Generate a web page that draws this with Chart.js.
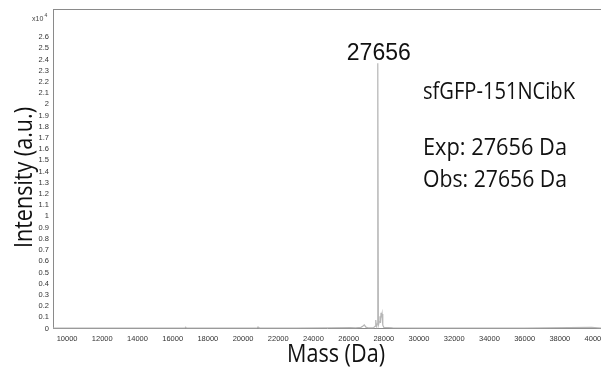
<!DOCTYPE html>
<html>
<head>
<meta charset="utf-8">
<script src="https://cdn.jsdelivr.net/npm/chart.js@4"></script>
<style>
  html, body { margin: 0; padding: 0; background: #fff; }
  #wrap { width: 601px; height: 372px; }
</style>
</head>
<body>
<div id="wrap"><canvas id="chart1" width="601" height="372"></canvas></div>
<script>
// spectrum (mass in Da, intensity in x10^4)
const mass = [9200, 12000, 14000, 16700, 16740, 16780, 18000, 20800, 20850, 20900, 23000, 25000,
  26100, 26400, 26700, 26800, 26890, 26980, 27100, 27400, 27500, 27540, 27580, 27620, 27656, 27690,
  27740, 27780, 27810, 27840, 27870, 27900, 27940, 28000, 28500, 30000, 33000, 36000, 39800, 40340]
const intensity = [0.004, 0.004, 0.004, 0.004, 0.012, 0.004, 0.004, 0.004, 0.014, 0.004, 0.004, 0.005,
  0.008, 0.006, 0.01, 0.02, 0.032, 0.012, 0.006, 0.006, 0.02, 0.075, 0.02, 0.04, 2.366, 0.03,
  0.06, 0.11, 0.05, 0.14, 0.1, 0.13, 0.03, 0.01, 0.005, 0.004, 0.004, 0.004, 0.01, 0.004]

const xTicks = [10000, 12000, 14000, 16000, 18000, 20000, 22000, 24000, 26000, 28000, 30000,
  32000, 34000, 36000, 38000, 40000]
const yTicks = [0, 0.1, 0.2, 0.3, 0.4, 0.5, 0.6, 0.7, 0.8, 0.9, 1, 1.1, 1.2, 1.3, 1.4, 1.5,
  1.6, 1.7, 1.8, 1.9, 2, 2.1, 2.2, 2.3, 2.4, 2.5, 2.6]

const peakLabel = '27656'
const sampleName = 'sfGFP-151NCibK'
const expText = 'Exp: 27656 Da'
const obsText = 'Obs: 27656 Da'

const points = mass.map((m, i) => ({ x: m, y: intensity[i] }))

// draw text squeezed to a given width
function fitText(ctx, text, x, y, width, font) {
  ctx.font = font
  const w = ctx.measureText(text).width
  ctx.save()
  ctx.translate(x, y)
  ctx.scale(width / w, 1)
  ctx.fillText(text, 0, 0)
  ctx.restore()
}

const extras = {
  id: 'extras',
  beforeDatasetsDraw(chart) {
    const { ctx, chartArea } = chart
    ctx.save()
    ctx.strokeStyle = '#8a8a8a'
    ctx.lineWidth = 1
    ctx.beginPath()
    ctx.moveTo(chartArea.left, chartArea.top + 0.5)
    ctx.lineTo(chartArea.right, chartArea.top + 0.5)
    ctx.stroke()
    ctx.restore()
  },
  afterDraw(chart) {
    const ctx = chart.ctx
    const xs = chart.scales.x
    ctx.save()
    ctx.fillStyle = '#111'
    ctx.textAlign = 'left'
    ctx.textBaseline = 'alphabetic'

    // peak label
    ctx.font = '23px "Liberation Sans", Arial, sans-serif'
    ctx.textAlign = 'center'
    ctx.fillText(peakLabel, xs.getPixelForValue(27656) + 1, 59.5)
    ctx.textAlign = 'left'

    // annotation block
    fitText(ctx, sampleName, 423, 99, 152, '23px "Open Sans", sans-serif')
    fitText(ctx, expText, 423, 155, 144, '23px "Open Sans", sans-serif')
    fitText(ctx, obsText, 423, 187, 144, '23px "Open Sans", sans-serif')

    // axis titles
    fitText(ctx, 'Mass (Da)', 287, 362, 98, '25px "Open Sans", sans-serif')
    ctx.save()
    ctx.translate(32, 248)
    ctx.rotate(-Math.PI / 2)
    fitText(ctx, 'Intensity (a.u.)', 0, 0, 141, '25px "Open Sans", sans-serif')
    ctx.restore()

    // x10^4
    ctx.fillStyle = '#444'
    ctx.font = '7px "Liberation Sans", Arial, sans-serif'
    ctx.fillText('x10', 32, 21)
    ctx.font = '5px "Liberation Sans", Arial, sans-serif'
    ctx.fillText('4', 44.5, 17)
    ctx.restore()
  }
}

const cht1 = document.getElementById('chart1')

new Chart(cht1, {
  type: 'scatter',
  data: {
    datasets: [{
      label: 'spectrum',
      data: points,
      showLine: true,
      borderColor: '#b6b6b6',
      borderWidth: 1.2,
      pointRadius: 0,
      tension: 0
    }]
  },
  options: {
    responsive: false,
    animation: false,
    layout: { padding: { top: 9, left: 0, right: 0, bottom: 0 } },
    plugins: {
      legend: { display: false },
      tooltip: { enabled: false }
    },
    scales: {
      x: {
        type: 'linear',
        min: 9200,
        max: 40340,
        grid: { display: false, drawTicks: false },
        border: { display: true, color: '#8a8a8a', width: 1 },
        afterBuildTicks: (scale) => { scale.ticks = xTicks.map(v => ({ value: v })) },
        afterFit: (scale) => {
          scale.height = 43.5
          scale.paddingLeft = 0
          scale.paddingRight = 0
        },
        ticks: {
          padding: 6,
          maxRotation: 0,
          autoSkip: false,
          color: '#333',
          font: { family: '"Liberation Sans", Arial, sans-serif', size: 7.5 },
          callback: (v) => String(v)
        }
      },
      y: {
        min: 0,
        max: 2.85,
        grid: { display: false, drawTicks: false },
        border: { display: true, color: '#8a8a8a', width: 1 },
        afterBuildTicks: (scale) => { scale.ticks = yTicks.map(v => ({ value: v })) },
        afterFit: (scale) => {
          scale.width = 53
          scale.paddingTop = 0
          scale.paddingBottom = 0
        },
        ticks: {
          padding: 4,
          autoSkip: false,
          color: '#333',
          font: { family: '"Liberation Sans", Arial, sans-serif', size: 7.5 },
          callback: (v) => String(Math.round(v * 10) / 10)
        }
      }
    }
  },
  plugins: [extras]
})
</script>
</body>
</html>
